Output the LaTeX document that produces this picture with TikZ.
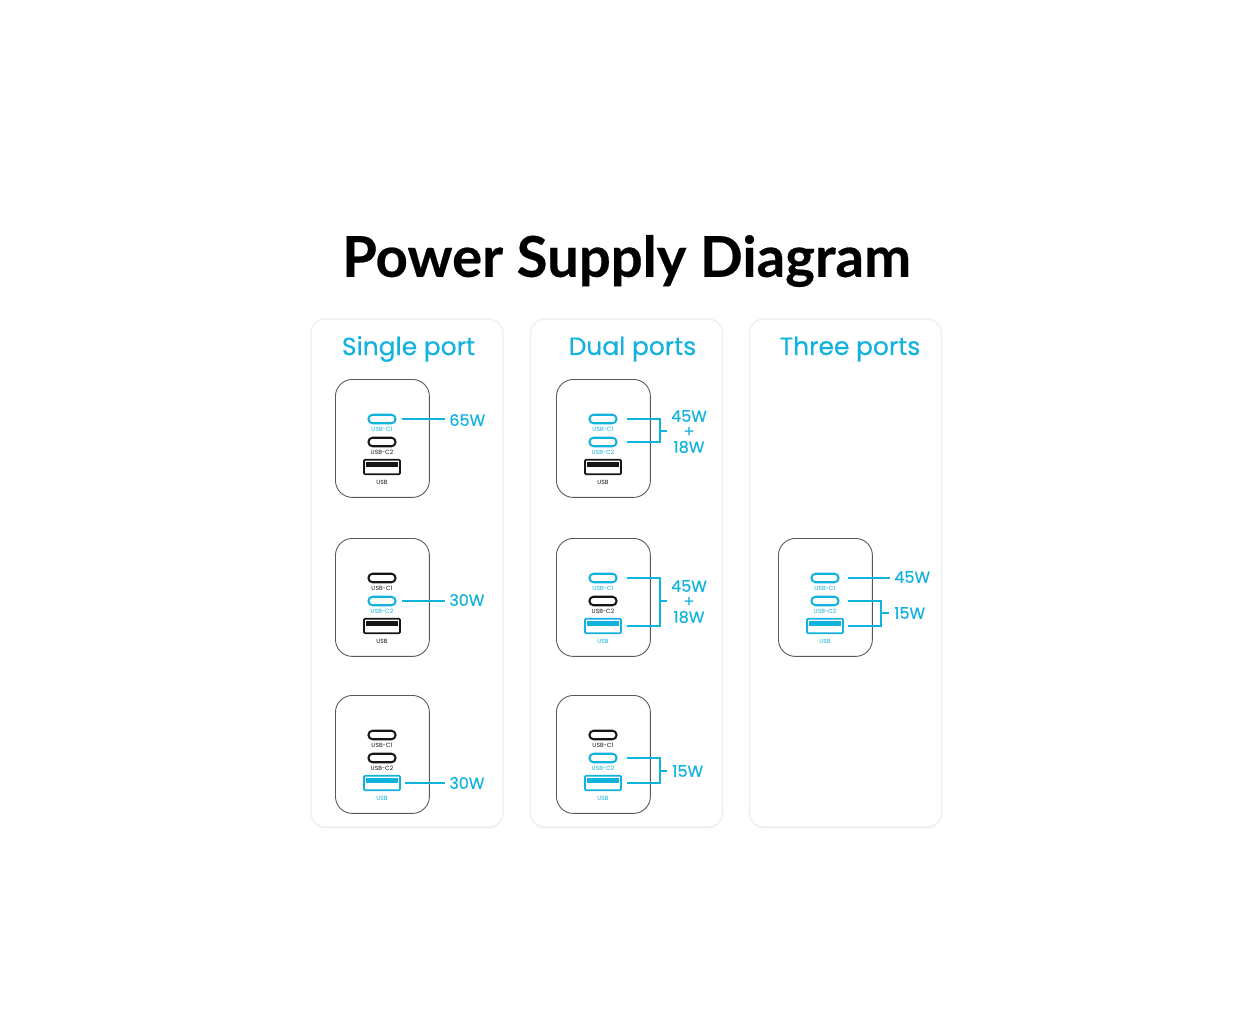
\documentclass[tikz,border=0pt]{standalone}
\usepackage{fontspec}
\setmainfont{Poppins}
\newfontfamily\titlefont[BoldFeatures={FakeBold=0.4}]{Lato}
\newfontfamily\boldishfont[FakeBold=0.35]{Poppins}
\usetikzlibrary{shadows}
\definecolor{portblue}{HTML}{12B2DE}
\definecolor{portdark}{HTML}{161616}
\tikzset{
  panel/.style={draw=black!6,line width=0.8pt,fill=white,rounded corners=0.28cm,minimum width=3.84cm,minimum height=10.16cm,inner sep=0pt,drop shadow={shadow xshift=0pt,shadow yshift=-0.8pt,opacity=0.12}},
  heading/.style={text=portblue,font=\boldishfont\fontsize{14.2pt}{16pt}\selectfont,inner sep=0pt},
  watt/.style={text=portblue,font=\boldishfont\fontsize{9.1pt}{11pt}\selectfont,inner sep=0pt,inner xsep=0.08cm},
  wire/.style={draw=portblue,line width=1.05pt},
  body/.style={draw=black!65,line width=0.5pt,rounded corners=0.34cm,minimum width=1.88cm,minimum height=2.36cm,inner sep=0pt},
  cport/.style={line width=1.15pt,rounded corners=0.08cm,minimum width=0.54cm,minimum height=0.17cm,inner sep=0pt},
  aport/.style={line width=1pt,rounded corners=0.02cm,minimum width=0.72cm,minimum height=0.29cm,inner sep=0pt},
  tag/.style={font=\fontsize{3.4pt}{4pt}\selectfont,inner sep=0pt},
  pics/charger/.style n args={3}{code={
    \node[body,anchor=north west] (-box) at (0,0) {};
    \node[cport,draw=#1] (-c1) at (47,40) {};
    \node[tag,text=#1] (-t1) at (47,50) {USB-C1};
    \node[cport,draw=#2] (-c2) at (47,63) {};
    \node[tag,text=#2] (-t2) at (47,73) {USB-C2};
    \node[aport,draw=#3] (-a) at (47,88) {};
    \fill[#3] (31,83) rectangle (63,88);
    \node[tag,text=#3] (-t3) at (47,103) {USB};
  }}
}
\begin{document}
\begin{tikzpicture}[x=0.02cm,y=-0.02cm]
   \useasboundingbox[fill=white] (0,0) rectangle (1252,1024);

   \node[font=\titlefont\fontsize{32pt}{34pt}\selectfont\bfseries,inner sep=0pt] (title) at (626.5,261) {Power Supply Diagram};

   \node[panel] (single) at (407,573) {};
   \node[panel] (dual) at (626.5,573) {};
   \node[panel] (three) at (845.5,573) {};
   \node[heading] (singlehead) at (408.5,349) {Single port};
   \node[heading] (dualhead) at (632.5,349) {Dual ports};
   \node[heading] (threehead) at (850,349) {Three ports};

   % single port
   \pic (s1) at (335,379) {charger={portblue}{portdark}{portdark}};
   \pic (s2) at (335,538) {charger={portdark}{portblue}{portdark}};
   \pic (s3) at (335,695) {charger={portdark}{portdark}{portblue}};
   \node[watt,anchor=west] (s1w) at (445,420) {65W};
   \node[watt,anchor=west] (s2w) at (445,600) {30W};
   \node[watt,anchor=west] (s3w) at (445,783) {30W};
   \draw[wire] ([xshift=0.1cm]s1-c1.east) -- (s1-c1.east -| s1w.west);
   \draw[wire] ([xshift=0.1cm]s2-c2.east) -- (s2-c2.east -| s2w.west);
   \draw[wire] ([xshift=0.08cm]s3-a.east) -- (s3-a.east -| s3w.west);

   % dual ports
   \pic (d1) at (556,379) {charger={portblue}{portblue}{portdark}};
   \pic (d2) at (556,538) {charger={portblue}{portdark}{portblue}};
   \pic (d3) at (556,695) {charger={portdark}{portblue}{portblue}};
   \node[watt] (d1w) at (689,416) {45W};
   \node[watt] (d1p) at (689,432) {+};
   \node[watt] (d1x) at (689,447) {18W};
   \node[watt] (d2w) at (689,586) {45W};
   \node[watt] (d2p) at (689,602) {+};
   \node[watt] (d2x) at (689,617) {18W};
   \node[watt,anchor=west] (d3w) at (668,771) {15W};
   \coordinate (d1b) at (660,431);
   \coordinate (d2b) at (660,601);
   \coordinate (d3b) at (660,771);
   \draw[wire] ([xshift=0.18cm]d1-c1.east) -| (d1b) |- ([xshift=0.18cm]d1-c2.east);
   \draw[wire] (d1b) -- ++(7,0);
   \draw[wire] ([xshift=0.18cm]d2-c1.east) -| (d2b) |- ([xshift=0.1cm]d2-a.east);
   \draw[wire] (d2b) -- ++(7,0);
   \draw[wire] ([xshift=0.18cm]d3-c2.east) -| (d3b) |- ([xshift=0.1cm]d3-a.east);
   \draw[wire] (d3b) -- ++(7,0);

   % three ports
   \pic (t1) at (778,538) {charger={portblue}{portblue}{portblue}};
   \node[watt,anchor=west] (t1w) at (890,577) {45W};
   \node[watt,anchor=west] (t1x) at (890,613) {15W};
   \coordinate (t1b) at (881,613);
   \draw[wire] ([xshift=0.16cm]t1-c1.east) -- (t1-c1.east -| t1w.west);
   \draw[wire] ([xshift=0.16cm]t1-c2.east) -| (t1b) |- ([xshift=0.08cm]t1-a.east);
   \draw[wire] (t1b) -- ++(8,0);
\end{tikzpicture}
\end{document}
